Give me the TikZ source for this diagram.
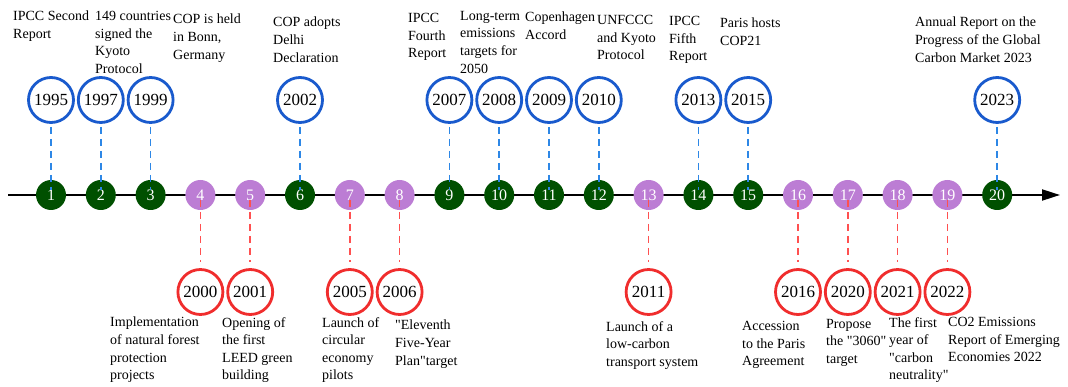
\documentclass[tikz,border=0pt]{standalone}
\usepackage{fontspec}
\setmainfont{Liberation Serif}
\usetikzlibrary{arrows.meta}
\definecolor{dgreen}{RGB}{0,80,0}
\definecolor{lpurple}{RGB}{188,125,212}
\definecolor{cblue}{RGB}{25,90,205}
\definecolor{dblue}{RGB}{45,135,230}
\definecolor{cred}{RGB}{240,45,45}
\definecolor{dred}{RGB}{255,80,80}
\newcommand{\dq}{\textquotedbl}
\begin{document}
\begin{tikzpicture}[x=1pt,y=-1pt,
 dot/.style={circle,minimum size=30pt,inner sep=0pt,text=white,font=\fontsize{16}{16}\selectfont},
 gdot/.style={dot,fill=dgreen},
 pdot/.style={dot,fill=lpurple},
 yr/.style={circle,draw,line width=2.8pt,minimum size=45pt,inner sep=0pt,fill=white,font=\fontsize{17}{17}\selectfont},
 topyr/.style={yr,draw=cblue},
 botyr/.style={yr,draw=cred},
 lab/.style={anchor=north west,align=left,inner sep=0pt,font=\fontsize{14}{17.6}\selectfont},
 updash/.style={draw=dblue,line width=1.5pt,dash pattern=on 7pt off 5pt,shorten <=3pt,shorten >=5pt},
 downdash/.style={draw=dred,line width=1.5pt,dash pattern=on 7pt off 5pt,shorten <=5pt,shorten >=6pt},
 axis/.style={line width=2pt,-{Triangle[length=18pt,width=11pt]}}
]
\useasboundingbox (0,0) rectangle (1068,387);

% axis
\coordinate (axL) at (8,195);
\coordinate (axR) at (1060,195);
\draw[axis] (axL) -- (axR);

% axis nodes
\foreach \i/\s in {1/gdot,2/gdot,3/gdot,4/pdot,5/pdot,6/gdot,7/pdot,8/pdot,9/gdot,10/gdot,
                   11/gdot,12/gdot,13/pdot,14/gdot,15/gdot,16/pdot,17/pdot,18/pdot,19/pdot,20/gdot}
  \node[\s] (n\i) at ({51+(\i-1)*49.8},195) {\i};

% top year circles
\foreach \yr/\i in {1995/1,1997/2,1999/3,2002/6,2007/9,2008/10,2009/11,2010/12,2013/14,2015/15,2023/20}
  \node[topyr] (y\yr) at ({51+(\i-1)*49.8},100) {\yr};

% bottom year circles
\foreach \yr/\i in {2000/4,2001/5,2005/7,2006/8,2011/13,2016/16,2020/17,2021/18,2022/19}
  \node[botyr] (y\yr) at ({51+(\i-1)*49.8},292) {\yr};

% connectors
\foreach \yr/\i in {1995/1,1997/2,1999/3,2002/6,2007/9,2008/10,2009/11,2010/12,2013/14,2015/15,2023/20}
  \draw[updash] (y\yr.south) -- (n\i.center);
\foreach \yr/\i in {2000/4,2001/5,2005/7,2006/8,2011/13,2016/16,2020/17,2021/18,2022/19}
  \draw[downdash] (n\i.center) -- (y\yr.north);

% top labels
\node[lab] (l1995) at (13,11) {IPCC Second\\Report};
\node[lab] (l1997) at (95,11) {149 countries\\signed the\\Kyoto\\Protocol};
\node[lab] (l1999) at (173,14) {COP is held\\in Bonn,\\Germany};
\node[lab] (l2002) at (273,17) {COP adopts\\Delhi\\Declaration};
\node[lab] (l2007) at (408,13) {IPCC\\Fourth\\Report};
\node[lab] (l2008) at (460,11) {Long-term\\emissions\\targets for\\2050};
\node[lab] (l2009) at (525,12) {Copenhagen\\Accord};
\node[lab] (l2010) at (597,15) {UNFCCC\\and Kyoto\\Protocol};
\node[lab] (l2013) at (669,16) {IPCC\\Fifth\\Report};
\node[lab] (l2015) at (720,18) {Paris hosts\\COP21};
\node[lab] (l2023) at (915,17) {Annual Report on the\\Progress of the Global\\Carbon Market 2023};

% bottom labels
\node[lab] (l2000) at (110,317) {Implementation\\of natural forest\\protection\\projects};
\node[lab] (l2001) at (222,317) {Opening of\\the first\\LEED green\\building};
\node[lab] (l2005) at (322,317) {Launch of\\circular\\economy\\pilots};
\node[lab] (l2006) at (395,320) {\dq Eleventh\\Five-Year\\Plan\dq target};
\node[lab] (l2011) at (606,321) {Launch of a\\low-carbon\\transport system};
\node[lab] (l2016) at (742,321) {Accession\\to the Paris\\Agreement};
\node[lab] (l2020) at (826,319) {Propose\\the \dq 3060\dq\\target};
\node[lab] (l2021) at (889,317) {The first\\year of\\\dq carbon\\neutrality\dq};
\node[lab] (l2022) at (948,317) {CO2 Emissions\\Report of Emerging\\Economies 2022};
\end{tikzpicture}
\end{document}
